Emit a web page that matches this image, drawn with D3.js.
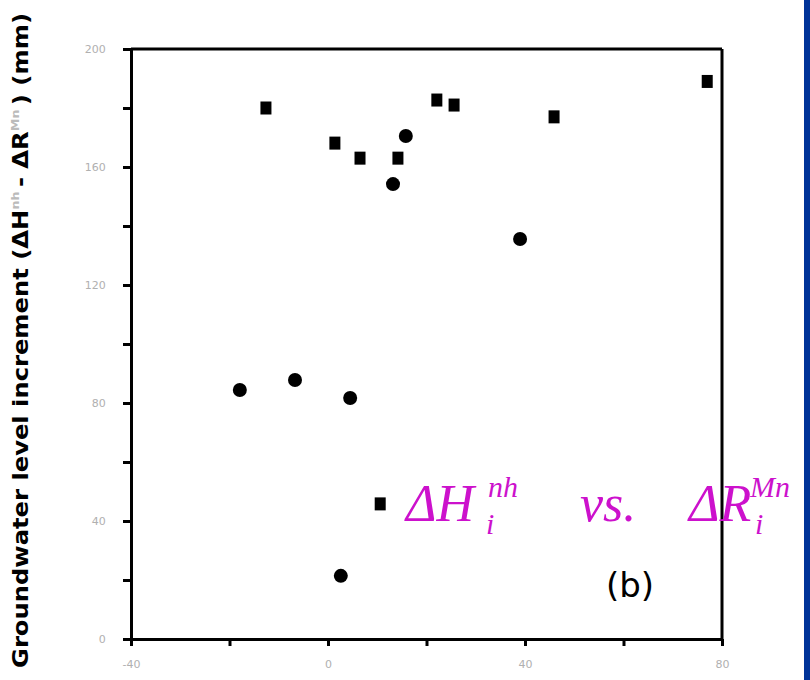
<!DOCTYPE html>
<html>
<head>
<meta charset="utf-8">
<script src="https://cdn.jsdelivr.net/npm/d3@7"></script>
<style>
  body { margin: 0; background: #fff; }
  svg { display: block; }
</style>
</head>
<body>
<svg id="chart" width="810" height="680"></svg>
<script>
// square markers
const squareX = [-12.6, 1.4, 6.5, 14.2, 22.1, 25.6, 45.9, 77.0, 10.6];
const squareY = [180.0, 168.1, 163.0, 163.0, 182.7, 181.0, 177.0, 189.0, 45.8];
// round markers
const circleX = [13.2, 15.8, 39.0, -17.9, -6.7, 4.5, 2.6];
const circleY = [154.2, 170.5, 135.6, 84.4, 87.8, 81.7, 21.4];

const xTicks = [-40, -20, 0, 20, 40, 60, 80];
const xLabels = [-40, 0, 40, 80];
const yTicks = [0, 20, 40, 60, 80, 100, 120, 140, 160, 180, 200];
const yLabels = [0, 40, 80, 120, 160, 200];

const svg = d3.select("#chart");

const x = d3.scaleLinear().domain([-40, 80]).range([131, 722]);
const y = d3.scaleLinear().domain([0, 200]).range([639, 49]);

// frame: top + right borders
svg.append("line").attr("x1", x(-40)).attr("x2", x(80)).attr("y1", y(200)).attr("y2", y(200))
  .attr("stroke", "#000").attr("stroke-width", 3);
svg.append("line").attr("x1", x(80)).attr("x2", x(80)).attr("y1", y(200)).attr("y2", y(0))
  .attr("stroke", "#000").attr("stroke-width", 3);

// axes
const xAxis = svg.append("g").attr("transform", `translate(0,${y(0)})`)
  .call(d3.axisBottom(x).tickValues(xTicks).tickSize(7).tickSizeOuter(0)
    .tickFormat(d => xLabels.includes(d) ? d : ""));
const yAxis = svg.append("g").attr("transform", `translate(${x(-40)},0)`)
  .call(d3.axisLeft(y).tickValues(yTicks).tickSize(8).tickSizeOuter(0)
    .tickFormat(d => yLabels.includes(d) ? d : ""));

[xAxis, yAxis].forEach(g => {
  g.select(".domain").attr("stroke", "#000").attr("stroke-width", 3);
  g.selectAll(".tick line").attr("stroke", "#000").attr("stroke-width", 3);
  g.selectAll(".tick text").attr("fill", "#b0b0b0")
    .style("font", "11px 'DejaVu Sans', sans-serif");
});
xAxis.selectAll(".tick text").attr("dy", "1.7em");
yAxis.selectAll(".tick text").attr("dx", "-1.3em");

// y axis title
const yt = svg.append("text")
  .attr("transform", "translate(28,668) rotate(-90)")
  .attr("textLength", 655).attr("lengthAdjust", "spacingAndGlyphs")
  .style("font", "bold 21px 'DejaVu Sans Condensed', 'DejaVu Sans', sans-serif")
  .attr("fill", "#000");
yt.append("tspan").text("Groundwater level increment (ΔH");
yt.append("tspan").attr("dy", -9).attr("fill", "#bbb").style("font-size", "11px").text("nh ");
yt.append("tspan").attr("dy", 9).text(" - ΔR");
yt.append("tspan").attr("dy", -9).attr("fill", "#bbb").style("font-size", "11px").text("Mn ");
yt.append("tspan").attr("dy", 9).text(" ) (mm)");

// markers
const squares = squareX.map((v, i) => ({ x: v, y: squareY[i] }));
const circles = circleX.map((v, i) => ({ x: v, y: circleY[i] }));

svg.append("g").selectAll("rect").data(squares).join("rect")
  .attr("x", d => x(d.x) - 5.5).attr("y", d => y(d.y) - 6.5)
  .attr("width", 11).attr("height", 13).attr("fill", "#000");

svg.append("g").selectAll("circle").data(circles).join("circle")
  .attr("cx", d => x(d.x)).attr("cy", d => y(d.y)).attr("r", 7).attr("fill", "#000");

// magenta annotation
const mag = "#cc11cc";
const ann = svg.append("g").attr("fill", mag)
  .style("font-family", "'Liberation Serif', 'Times New Roman', serif").style("font-style", "italic");
ann.append("text").attr("x", 406).attr("y", 521).style("font-size", "52px").text("ΔH");
ann.append("text").attr("x", 488).attr("y", 497).style("font-size", "30px").text("nh");
ann.append("text").attr("x", 486).attr("y", 534).style("font-size", "30px").text("i");
ann.append("text").attr("x", 580).attr("y", 521).style("font-size", "52px").text("vs.");
ann.append("text").attr("x", 689).attr("y", 521).style("font-size", "52px").text("ΔR");
ann.append("text").attr("x", 750).attr("y", 497).style("font-size", "30px").text("Mn");
ann.append("text").attr("x", 755).attr("y", 534).style("font-size", "30px").text("i");

// panel label
svg.append("text").attr("x", 630).attr("y", 597).attr("text-anchor", "middle")
  .style("font", "34px 'DejaVu Sans', sans-serif").attr("fill", "#000").text("(b)");

// blue edge bar
svg.append("rect").attr("x", 804).attr("y", 0).attr("width", 6).attr("height", 680).attr("fill", "#003399");
</script>
</body>
</html>
